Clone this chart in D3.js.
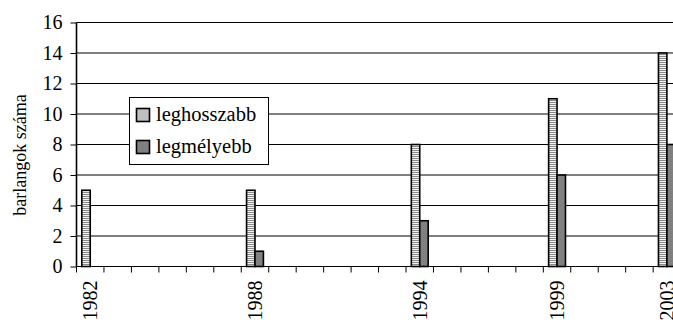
<!DOCTYPE html>
<html>
<head>
<meta charset="utf-8">
<script src="https://cdn.jsdelivr.net/npm/d3@7"></script>
</head>
<body style="margin:0">
<svg id="chart" width="673" height="323"></svg>
<script>
// Number of caves (longest / deepest) by survey year
const years = [1982, 1988, 1994, 1999, 2003];
const leghosszabb = [5, 5, 8, 11, 14];
const legmelyebb = [0, 1, 3, 6, 8];
const seriesNames = ["leghosszabb", "legmélyebb"];
const yTicks = [0, 2, 4, 6, 8, 10, 12, 14, 16];
const yTitle = "barlangok száma";

const svg = d3.select("#chart");
const W = 673, H = 323;
const left = 76.5, zeroY = 266.5, topY = 22.5;
const yearStep = 27.46;

// all text is set in a Times-like serif
const serifText = (sel, size) => sel
  .style("font-family", '"Liberation Serif"')
  .attr("font-size", size);

// one category per calendar year, from first to last survey
const allYears = d3.range(years[0], years[years.length - 1] + 1);
const x = d3.scaleBand()
  .domain(allYears)
  .range([left, left + allYears.length * yearStep])
  .padding(0);
const xInner = d3.scaleBand()
  .domain(seriesNames)
  .range([0, x.bandwidth()])
  .paddingInner(0)
  .paddingOuter(0.63);
const y = d3.scaleLinear().domain([0, 16]).range([zeroY, topY]);

// stripe pattern for the first series
const defs = svg.append("defs");
const pat = defs.append("pattern")
  .attr("id", "stripes")
  .attr("patternUnits", "userSpaceOnUse")
  .attr("width", 4).attr("height", 2);
pat.append("rect").attr("width", 4).attr("height", 2).attr("fill", "#f2f2f2");
pat.append("rect").attr("width", 4).attr("height", 1).attr("fill", "#8c8c8c");

const fills = { "leghosszabb": "url(#stripes)", "legmélyebb": "#808080" };

// horizontal gridlines
svg.append("g")
  .selectAll("line")
  .data(yTicks.filter(d => d > 0))
  .join("line")
  .attr("x1", left).attr("x2", W)
  .attr("y1", d => y(d)).attr("y2", d => y(d))
  .attr("stroke", "#000").attr("stroke-width", 1);

// bars
const rows = years.map((yr, i) => ({ year: yr, values: [
  { key: seriesNames[0], value: leghosszabb[i] },
  { key: seriesNames[1], value: legmelyebb[i] }
]}));

const groups = svg.append("g")
  .selectAll("g")
  .data(rows)
  .join("g")
  .attr("transform", d => `translate(${x(d.year)},0)`);

groups.selectAll("rect")
  .data(d => d.values.filter(v => v.value > 0))
  .join("rect")
  .attr("x", d => xInner(d.key))
  .attr("width", xInner.bandwidth())
  .attr("y", d => y(d.value))
  .attr("height", d => y(0) - y(d.value))
  .attr("fill", d => fills[d.key])
  .attr("stroke", "#000")
  .attr("stroke-width", 1.6);

// y axis
const yAxis = svg.append("g")
  .attr("transform", `translate(${left},0)`)
  .call(d3.axisLeft(y).tickValues(yTicks).tickSize(6).tickPadding(8).tickFormat(d3.format("d")));
yAxis.attr("font-family", null).attr("font-size", null);
yAxis.select(".domain").attr("stroke", "#000").attr("stroke-width", 1.6)
  .attr("d", `M0,${zeroY}V${topY}`);
yAxis.selectAll(".tick line").attr("stroke", "#000");
yAxis.selectAll("text").call(serifText, 20).attr("fill", "#000");

// x axis line with ticks at every category boundary
const xg = svg.append("g");
xg.append("line")
  .attr("x1", left).attr("x2", W)
  .attr("y1", zeroY).attr("y2", zeroY)
  .attr("stroke", "#000").attr("stroke-width", 1.2);
xg.selectAll("line.tk")
  .data(allYears)
  .join("line")
  .attr("class", "tk")
  .attr("x1", d => x(d)).attr("x2", d => x(d))
  .attr("y1", zeroY).attr("y2", zeroY + 6)
  .attr("stroke", "#000");

// year labels, rotated
const xAxis = svg.append("g")
  .attr("transform", `translate(0,${zeroY})`)
  .call(d3.axisBottom(x).tickValues(years).tickSize(0).tickPadding(0));
xAxis.attr("font-family", null).attr("font-size", null);
xAxis.select(".domain").remove();
xAxis.selectAll("text")
  .call(serifText, 20).attr("fill", "#000")
  .attr("transform", "rotate(-90)")
  .attr("text-anchor", "end")
  .attr("dy", "0.35em")
  .attr("x", -14).attr("y", 0);

// y title
svg.append("text")
  .attr("transform", `translate(20,155) rotate(-90)`)
  .attr("text-anchor", "middle")
  .attr("dy", "0.35em")
  .call(serifText, 18)
  .text(yTitle);

// legend
const lg = svg.append("g").attr("transform", "translate(129.5,97.5)");
lg.append("rect").attr("width", 139).attr("height", 67)
  .attr("fill", "#fff").attr("stroke", "#000").attr("stroke-width", 1);
seriesNames.forEach((name, i) => {
  const gy = 11 + i * 32;
  lg.append("rect").attr("x", 7).attr("y", gy).attr("width", 13).attr("height", 13)
    .attr("fill", fills[name]).attr("stroke", "#000").attr("stroke-width", 1.6);
  lg.append("text").attr("x", 26.5).attr("y", gy + 12.5)
    .call(serifText, 20.5).text(name);
});
</script>
</body>
</html>
